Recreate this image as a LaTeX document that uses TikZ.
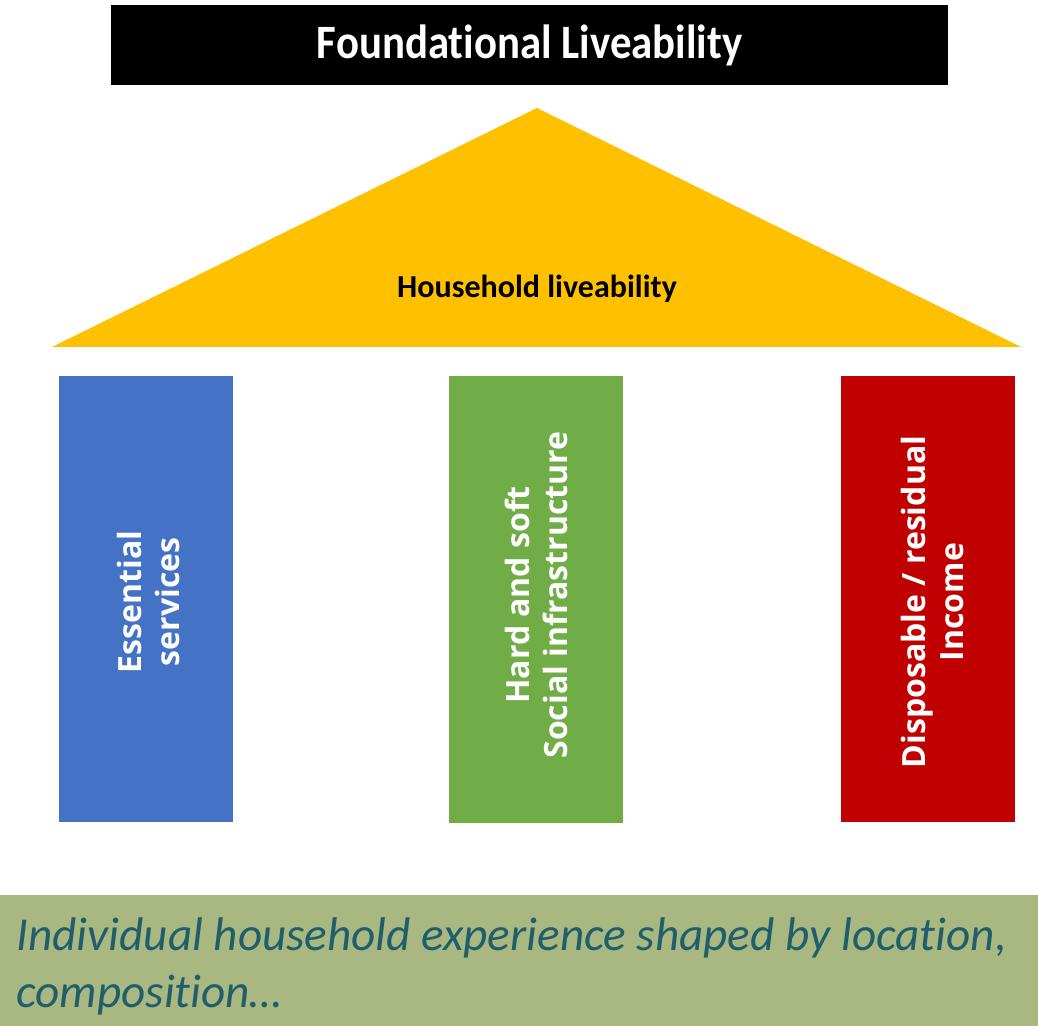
\documentclass[tikz,border=0pt]{standalone}
\usepackage{fontspec}
\setmainfont{Carlito}[Ligatures={NoCommon}]
\newfontfamily\pillarfont{Open Sans}
\definecolor{roofyellow}{HTML}{FFC000}
\definecolor{pillarblue}{HTML}{4472C4}
\definecolor{pillargreen}{HTML}{70AD47}
\definecolor{pillarred}{HTML}{C00000}
\definecolor{bandgreen}{HTML}{A8B880}
\definecolor{bandtext}{HTML}{215E6C}
\tikzset{
  titlebox/.style={fill=black, text=white, inner sep=0pt,
    minimum width=418.5pt, minimum height=40pt,
    font=\bfseries\fontsize{21.4}{24}\selectfont},
  roofstyle/.style={fill=roofyellow, draw=none},
  rooflabel/.style={text=black, inner sep=0pt, font=\bfseries\fontsize{16}{19}\selectfont},
  pillar/.style={draw=none, inner sep=0pt, minimum width=87pt, minimum height=223pt},
  pillarlabel/.style={text=white, rotate=90, align=center, inner sep=0pt,
    font=\pillarfont\bfseries\fontsize{16}{19}\selectfont},
  bandlabel/.style={text=bandtext, anchor=base west, inner sep=0pt,
    font=\itshape\fontsize{23.6}{28}\selectfont}
}
\begin{document}
\begin{tikzpicture}[x=0.5pt,y=-0.5pt]
\useasboundingbox (0,0) rectangle (1038,1026);

% bottom band
\fill[bandgreen] (0,895) rectangle (1038,1026);
\node[bandlabel] (band1) at (16,950) {Individual household experience shaped by location,};
\node[bandlabel] (band2) at (16,1007) {composition…};

% title bar
\node[titlebox] (title) at (529.5,45.5) {\scalebox{1}[1.12]{Foundational Liveability}};

% roof
\coordinate (roofL) at (52,347);
\coordinate (roofT) at (537,108);
\coordinate (roofR) at (1021,347);
\fill[roofstyle] (roofL) -- (roofT) -- (roofR) -- cycle;
\node[rooflabel] (roof) at (537,289) {Household liveability};

% pillars
\node[pillar, fill=pillarblue]  (p1) at (146,599) {};
\node[pillar, fill=pillargreen] (p2) at (536,599.5) {};
\node[pillar, fill=pillarred]   (p3) at (927.5,599) {};
\node[pillarlabel] (p1t) at (148,602) {Essential\\services};
\node[pillarlabel] (p2t) at (536,595) {Hard and soft\\Social infrastructure};
\node[pillarlabel] (p3t) at (932,602) {Disposable / residual\\Income};
\end{tikzpicture}
\end{document}
